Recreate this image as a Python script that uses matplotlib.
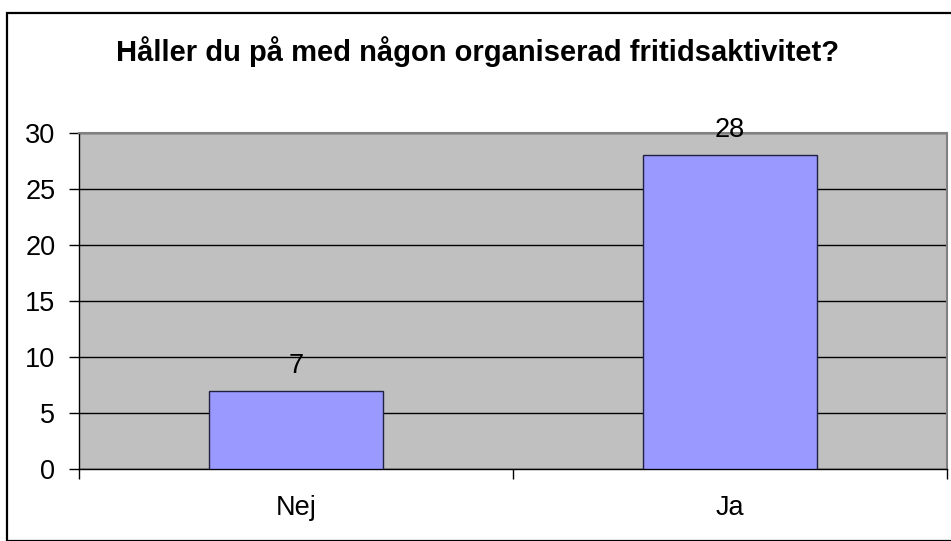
import numpy as np
import matplotlib
matplotlib.use('Agg')
import matplotlib.pyplot as plt
from matplotlib.patches import Rectangle

plt.rcParams['font.family'] = ['Liberation Sans', 'DejaVu Sans']

categories = ['Nej', 'Ja']
counts = [7, 28]
yticks = [0, 5, 10, 15, 20, 25, 30]
title = 'Håller du på med någon organiserad fritidsaktivitet?'

fig = plt.figure(figsize=(9.51, 5.41), dpi=100)
ax = fig.add_axes([79/951, 1-469/541, (947-79)/951, (469-133)/541])

# outer chart frame
fig.patches.append(Rectangle((7/951, 0.0), 1.0, 1-13/541, transform=fig.transFigure,
                             fill=False, edgecolor='black', linewidth=1.6, clip_on=False))

x = np.arange(len(categories))
ax.set_facecolor('#C0C0C0')
ax.bar(x, counts, width=0.4, color='#9999FF', edgecolor='#202040', linewidth=1.0, zorder=3)

for xi, v in zip(x, counts):
    ax.annotate(str(v), (xi, v), xytext=(0, 18), textcoords='offset points',
                ha='center', va='center', fontsize=19.5, zorder=4)

ax.set_xlim(-0.5, len(categories) - 0.5)
ax.set_ylim(0, 30)
ax.set_yticks(yticks)
ax.set_yticklabels([str(t) for t in yticks], fontsize=19.5)
ax.yaxis.grid(True, color='black', linewidth=1.0, zorder=1)
ax.set_axisbelow(True)

ax.set_xticks(x)
ax.set_xticklabels(categories, fontsize=19.5)
ax.set_xticks(np.arange(-0.5, len(categories)), minor=True)
ax.tick_params(axis='x', which='major', length=0, pad=19)
ax.tick_params(axis='x', which='minor', length=7, width=1.0, direction='out')
ax.tick_params(axis='y', length=7, width=1.0, direction='out', pad=10)

for side in ['left', 'bottom']:
    ax.spines[side].set_color('black')
    ax.spines[side].set_linewidth(1.0)
for side in ['top', 'right']:
    ax.spines[side].set_color('#808080')
    ax.spines[side].set_linewidth(1.5)

fig.text(478/951, 1-52/541, title, ha='center', va='center', fontsize=21, fontweight='bold')

fig.savefig('out.png', dpi=100)
